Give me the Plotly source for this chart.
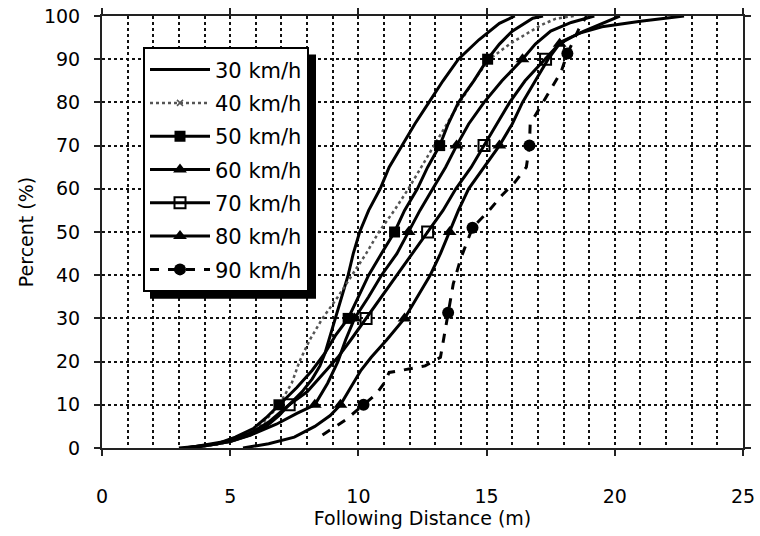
import plotly.graph_objects as go

# ---------------- data ----------------
series_names = ["30 km/h", "40 km/h", "50 km/h", "60 km/h", "70 km/h", "80 km/h", "90 km/h"]

x30 = [3.0, 4.0, 5.0, 5.8, 6.4, 6.9, 7.3, 7.8, 8.2, 8.5, 8.7, 8.9, 9.1, 9.35, 9.6, 9.8, 10.05, 10.4, 10.85, 11.2, 11.7, 12.2, 12.75, 13.3, 13.9, 14.7, 15.5, 16.1]
y30 = [0, 0.5, 1.5, 3, 5, 7.5, 10, 13, 16, 19, 22, 26, 30, 35, 40, 45, 50, 55, 60, 65, 70, 75, 80, 85, 90, 94.5, 98.3, 100]

x40 = [3.5, 4.5, 5.3, 5.9, 6.3, 6.7, 7.0, 7.4, 7.7, 8.1, 8.6, 9.2, 9.75, 10.3, 10.8, 11.4, 11.95, 12.45, 12.95, 13.45, 13.95, 14.5, 15.1, 16.0, 17.1, 17.7, 18.4]
y40 = [0, 0.8, 2, 4, 6, 8.5, 11, 15, 20, 25, 30, 35, 40, 45, 50, 55, 60, 65, 70, 75, 80, 85, 90, 93.9, 97.8, 99.4, 100]

x50 = [3.2, 4.5, 5.2, 5.9, 6.4, 6.9, 7.6, 8.2, 8.7, 9.1, 9.6, 10.0, 10.4, 10.9, 11.41, 11.8, 12.3, 12.7, 13.17, 13.5, 13.9, 14.5, 15.04, 15.5, 16.0, 16.8, 17.2]
y50 = [0, 1, 2.5, 4.5, 7, 10, 14, 18, 22, 26, 30, 35, 40, 45, 50, 55, 60, 65, 70, 75, 80, 85, 90, 93.5, 96.5, 99.5, 100]

x60 = [3.5, 5.0, 6.0, 6.8, 7.6, 8.3, 8.8, 9.2, 9.5, 9.85, 10.4, 10.9, 11.5, 11.96, 12.4, 12.9, 13.4, 13.83, 14.3, 14.9, 15.6, 16.4, 16.9, 17.5, 18.3, 19.2]
y60 = [0, 1.5, 3.5, 5.5, 8, 10, 15, 20, 25, 30, 35, 40, 45, 50, 55, 60, 65, 70, 75, 80, 85, 90, 93.5, 96.5, 98.5, 100]

x70 = [3.3, 4.8, 5.8, 6.5, 7.3, 8.0, 8.6, 9.2, 9.7, 10.3, 10.9, 11.5, 12.1, 12.7, 13.3, 13.8, 14.4, 14.9, 15.4, 15.9, 16.5, 17.3, 17.9, 18.8, 19.6, 20.2]
y70 = [0, 1.5, 3.5, 6, 10, 13, 17, 21, 25, 30, 35, 40, 45, 50, 55, 60, 65, 70, 75, 80, 85, 90, 94, 96.5, 98.5, 100]

x80 = [5.5, 6.5, 7.5, 8.3, 8.9, 9.3, 9.7, 10.1, 10.5, 11.1, 11.8, 12.3, 12.8, 13.2, 13.56, 13.9, 14.3, 14.9, 15.5, 16.0, 16.4, 16.9, 17.4, 17.85, 18.6, 19.5, 21.0, 22.7]
y80 = [0, 1, 2.5, 5, 7.5, 10, 14, 18, 21, 25, 30, 35, 40, 45, 50, 55, 60, 65, 70, 75, 80, 85, 90, 93.6, 96, 97.5, 98.8, 100]

x90 = [8.6, 9.5, 10.2, 10.7, 11.0, 11.2, 11.7, 12.6, 13.2, 13.35, 13.5, 13.7, 14.0, 14.45, 15.1, 15.6, 16.1, 16.55, 16.67, 16.7, 17.3, 17.9, 18.15, 18.4, 18.6, 18.9]
y90 = [3, 6.5, 10, 12.5, 15, 17.5, 18, 19, 21, 26, 31.3, 38, 44, 51, 55, 58.5, 61.5, 65, 70, 75, 81, 87, 91.3, 94.5, 97, 100]

# marker positions
mx50 = [6.9, 9.6, 11.41, 13.17, 15.04]
my50 = [10, 30, 50, 70, 90]
mx60 = [8.3, 9.85, 11.96, 13.83, 16.4]
my60 = [10, 30, 50, 70, 90]
mx70 = [7.3, 10.3, 12.7, 14.9, 17.3]
my70 = [10, 30, 50, 70, 90]
mx80 = [9.3, 11.8, 13.56, 15.5, 17.85]
my80 = [10, 30, 50, 70, 93.6]
mx90 = [10.2, 13.5, 14.45, 16.67, 18.15]
my90 = [10, 31.3, 51, 70, 91.3]

x_ticks = [0, 5, 10, 15, 20, 25]
y_ticks = [0, 10, 20, 30, 40, 50, 60, 70, 80, 90, 100]

# ---------------- styling ----------------
FONT = "DejaVu Sans"
BLACK = "#000000"

line_styles = {
    "30 km/h": dict(color=BLACK, width=3, dash="solid"),
    "40 km/h": dict(color="#555555", width=2.5, dash="dot"),
    "50 km/h": dict(color=BLACK, width=3, dash="solid"),
    "60 km/h": dict(color=BLACK, width=3, dash="solid"),
    "70 km/h": dict(color=BLACK, width=3, dash="solid"),
    "80 km/h": dict(color=BLACK, width=3, dash="solid"),
    "90 km/h": dict(color=BLACK, width=3, dash="dash"),
}
marker_styles = {
    "30 km/h": None,
    "40 km/h": dict(symbol="x-thin", size=6, color="#555555", line=dict(color="#555555", width=1.5)),
    "50 km/h": dict(symbol="square", size=11, color=BLACK),
    "60 km/h": dict(symbol="triangle-up", size=12, color=BLACK),
    "70 km/h": dict(symbol="square-open", size=11, color=BLACK, line=dict(width=2, color=BLACK)),
    "80 km/h": dict(symbol="triangle-up", size=12, color=BLACK),
    "90 km/h": dict(symbol="circle", size=12, color=BLACK),
}

curves = {
    "30 km/h": (x30, y30, None, None),
    "40 km/h": (x40, y40, None, None),
    "50 km/h": (x50, y50, mx50, my50),
    "60 km/h": (x60, y60, mx60, my60),
    "70 km/h": (x70, y70, mx70, my70),
    "80 km/h": (x80, y80, mx80, my80),
    "90 km/h": (x90, y90, mx90, my90),
}

fig = go.Figure()
for name in series_names:
    xs, ys, mxs, mys = curves[name]
    ls = line_styles[name]
    ms = marker_styles[name]
    fig.add_trace(go.Scatter(x=xs, y=ys, mode="lines", line=ls, legendgroup=name,
                             showlegend=False, hoverinfo="skip"))
    if mxs is not None:
        fig.add_trace(go.Scatter(x=mxs, y=mys, mode="markers", marker=ms, legendgroup=name,
                                 showlegend=False, hoverinfo="skip"))
    # legend entry
    if ms is None:
        fig.add_trace(go.Scatter(x=[None], y=[None], mode="lines", line=ls, name=name,
                                 legendgroup=name))
    else:
        fig.add_trace(go.Scatter(x=[None], y=[None], mode="lines+markers", line=ls, marker=ms,
                                 name=name, legendgroup=name))

L, R, T, B = 102, 17, 15.5, 87.5
W, H = 760, 536
pw = W - L - R
ph = H - T - B


def px_x(p):
    return (p - L) / pw


def px_y(p):
    return (H - B - p) / ph


# legend shadow
fig.add_shape(type="rect", xref="paper", yref="paper",
              x0=px_x(150), x1=px_x(316), y0=px_y(299), y1=px_y(54),
              fillcolor=BLACK, line=dict(width=0), layer="above")

axis_common = dict(
    showline=True, linecolor="#222222", linewidth=2, mirror="ticks",
    ticks="outside", ticklen=6, tickwidth=1.5, tickcolor="#222222",
    showgrid=True, gridcolor="#111111", gridwidth=2, griddash="dot",
    zeroline=False, automargin=False,
    tickfont=dict(family=FONT, size=19, color=BLACK),
)

fig.update_layout(
    width=W, height=H,
    margin=dict(l=L, r=R, t=T, b=B, pad=0, autoexpand=False),
    paper_bgcolor="white", plot_bgcolor="white",
    font=dict(family=FONT, color=BLACK),
    xaxis=dict(
        range=[0, 25], tickvals=x_ticks, ticktext=[str(v) for v in x_ticks],
        minor=dict(dtick=1, showgrid=True, gridcolor="#111111", gridwidth=2, griddash="dot", ticks=""),
        ticklabelstandoff=24,
        title=dict(text="Following Distance (m)", font=dict(family=FONT, size=19, color=BLACK), standoff=4),
        **axis_common,
    ),
    yaxis=dict(
        range=[0, 100], tickvals=y_ticks, ticktext=[str(v) for v in y_ticks],
        ticklabelstandoff=10,
        title=dict(text="Percent (%)", font=dict(family=FONT, size=19, color=BLACK), standoff=5),
        **axis_common,
    ),
    legend=dict(
        x=px_x(143), y=px_y(47), xanchor="left", yanchor="top",
        bgcolor="white", bordercolor=BLACK, borderwidth=2,
        font=dict(family=FONT, size=21, color=BLACK),
        tracegroupgap=3, itemwidth=60,
    ),
    showlegend=True,
)

fig.write_html("out.html")
